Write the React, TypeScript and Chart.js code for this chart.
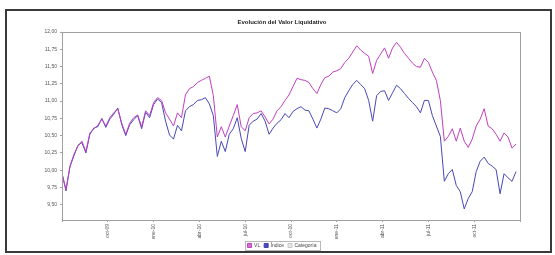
import { useEffect, useRef } from 'react';
import { Chart, registerables } from 'chart.js';

Chart.register(...registerables);

const chartTitle = 'Evolución del Valor Liquidativo';
const seriesNames = ['VL', 'Índice', 'Categoría'];
const xTickLabels = ['', 'oct-09', 'ene-10', 'abr-10', 'jul-10', 'oct-10', 'ene-11', 'abr-11', 'jul-11', 'oct-11', ''];
const yTickValues = [9.5, 9.75, 10.0, 10.25, 10.5, 10.75, 11.0, 11.25, 11.5, 11.75, 12.0];

const fundValues = [
  9.95, 9.72, 10.06, 10.23, 10.35, 10.42, 10.27, 10.54, 10.6, 10.65, 10.74, 10.64, 10.76, 10.83, 10.89, 10.68,
  10.52, 10.68, 10.76, 10.8, 10.63, 10.86, 10.79, 10.98, 11.05, 11.01,
  10.83, 10.74, 10.64, 10.83, 10.76, 11.09, 11.18, 11.21, 11.27, 11.3, 11.33, 11.36, 11.08, 10.48, 10.63, 10.48,
  10.64, 10.79, 10.95, 10.63, 10.57, 10.76, 10.82, 10.83, 10.86, 10.77, 10.67, 10.74, 10.86, 10.92, 11.01, 11.09,
  11.21, 11.33, 11.31, 11.3, 11.27, 11.18, 11.11, 11.24, 11.34, 11.36, 11.42, 11.44, 11.47, 11.56, 11.62, 11.71,
  11.8, 11.74, 11.69, 11.65, 11.4, 11.59, 11.68, 11.77, 11.62, 11.77, 11.85, 11.78, 11.69, 11.62, 11.55, 11.5,
  11.49, 11.62, 11.56, 11.42, 11.3, 11.01, 10.42, 10.49, 10.6, 10.42, 10.61, 10.42, 10.33, 10.45, 10.64, 10.74,
  10.89, 10.64, 10.6, 10.52, 10.42, 10.54, 10.48, 10.32, 10.38,
];

const indexValues = [
  9.96, 9.7, 10.05, 10.21, 10.36, 10.4, 10.25, 10.52, 10.61, 10.63, 10.75, 10.62, 10.74, 10.81, 10.9, 10.66,
  10.5, 10.66, 10.73, 10.79, 10.6, 10.84, 10.76, 10.95, 11.03, 10.98,
  10.71, 10.51, 10.45, 10.65, 10.57, 10.86, 10.92, 10.95, 11.01, 11.02, 11.05, 10.96, 10.79, 10.2, 10.42, 10.27,
  10.52, 10.6, 10.76, 10.46, 10.27, 10.65, 10.71, 10.74, 10.82, 10.71, 10.52, 10.61, 10.68, 10.73, 10.82, 10.76,
  10.85, 10.89, 10.92, 10.87, 10.86, 10.74, 10.61, 10.74, 10.9, 10.89, 10.86, 10.83, 10.89, 11.05, 11.15, 11.24,
  11.3, 11.24, 11.18, 11.01, 10.71, 11.08, 11.14, 11.15, 11.01, 11.12, 11.23, 11.18, 11.11, 11.04, 10.98, 10.92,
  10.83, 11.01, 11.01, 10.79, 10.64, 10.49, 9.84, 9.95, 10.01, 9.78, 9.69, 9.44, 9.59, 9.69, 9.98, 10.13,
  10.19, 10.1, 10.06, 10.01, 9.66, 9.95, 9.89, 9.84, 9.98,
];

const categoryValues: number[] = [];

const fmt = (v: number) => v.toFixed(2).replace('.', ',');

const framePlugin = {
  id: 'framePlugin',
  beforeDraw(chart: any) {
    const { ctx, width, height } = chart;
    ctx.save();
    ctx.fillStyle = '#ffffff';
    ctx.fillRect(0, 0, width, height);
    ctx.restore();
  },
  afterDraw(chart: any) {
    const { ctx, chartArea } = chart;
    ctx.save();
    ctx.strokeStyle = '#a0a0a0';
    ctx.lineWidth = 1;
    ctx.strokeRect(
      Math.round(chartArea.left) + 0.5,
      Math.round(chartArea.top) + 0.5,
      Math.round(chartArea.right - chartArea.left),
      Math.round(chartArea.bottom - chartArea.top)
    );
    const boxes = chart.legend?.legendHitBoxes || [];
    if (boxes.length) {
      let l = Infinity, t = Infinity, r = -Infinity, b = -Infinity;
      boxes.forEach((h: any) => {
        l = Math.min(l, h.left);
        t = Math.min(t, h.top);
        r = Math.max(r, h.left + h.width);
        b = Math.max(b, h.top + h.height);
      });
      ctx.strokeStyle = '#b8b8b8';
      ctx.strokeRect(Math.round(l - 3) + 0.5, Math.round(t - 2) + 0.5, Math.round(r - l + 6), Math.round(b - t + 4));
    }
    ctx.strokeStyle = '#3a3a3a';
    ctx.lineWidth = 2;
    ctx.strokeRect(6, 10, 545, 242);
    ctx.restore();
  },
};

export default function App() {
  const ref = useRef<HTMLCanvasElement | null>(null);

  useEffect(() => {
    if (!ref.current) return;
    const n = fundValues.length;
    const xMax = n;
    const step = xMax / 10;
    const chart = new Chart(ref.current, {
      type: 'line',
      data: {
        datasets: [
          {
            label: seriesNames[0],
            data: fundValues.map((v, i) => ({ x: i, y: v })),
            borderColor: '#c040c0',
            backgroundColor: '#d070d0',
            borderWidth: 1,
            pointRadius: 0,
            tension: 0,
          },
          {
            label: seriesNames[1],
            data: indexValues.map((v, i) => ({ x: i, y: v })),
            borderColor: '#4848b8',
            backgroundColor: '#4848b8',
            borderWidth: 1,
            pointRadius: 0,
            tension: 0,
          },
          {
            label: seriesNames[2],
            data: categoryValues.map((v, i) => ({ x: i, y: v })),
            borderColor: '#c8c8c8',
            backgroundColor: '#e8e8e8',
            borderWidth: 1,
            pointRadius: 0,
          },
        ],
      },
      options: {
        responsive: false,
        animation: false,
        devicePixelRatio: 1,
        layout: { padding: { left: 44, right: 35, top: 0, bottom: -3 } },
        plugins: {
          title: {
            display: true,
            text: chartTitle,
            color: '#222222',
            font: { family: 'Liberation Sans, Arial, sans-serif', size: 6, weight: 'bold', lineHeight: 1 },
            padding: { top: 19, bottom: 7 },
          },
          legend: {
            position: 'bottom',
            labels: {
              boxWidth: 4,
              boxHeight: 4,
              padding: 4,
              color: '#444444',
              font: { family: 'Liberation Sans, Arial, sans-serif', size: 5 },
            },
          },
          tooltip: { enabled: false },
        },
        scales: {
          x: {
            type: 'linear',
            min: 0,
            max: xMax,
            afterBuildTicks: (scale: any) => {
              scale.ticks = xTickLabels.map((_, k) => ({ value: k * step }));
            },
            afterFit: (scale: any) => {
              scale.height = 19;
            },
            ticks: {
              minRotation: 90,
              maxRotation: 90,
              autoSkip: false,
              padding: 2,
              color: '#555555',
              font: { family: 'Liberation Sans, Arial, sans-serif', size: 5 },
              callback: (_v: any, idx: number) => xTickLabels[idx],
            },
            grid: { display: true, drawOnChartArea: false, tickLength: 2, color: '#a0a0a0' },
            border: { display: false },
          },
          y: {
            type: 'linear',
            min: 9.28,
            max: 12.0,
            afterBuildTicks: (scale: any) => {
              scale.ticks = yTickValues.map((v) => ({ value: v }));
            },
            afterFit: (scale: any) => {
              scale.width = 18;
            },
            ticks: {
              padding: 3,
              color: '#555555',
              font: { family: 'Liberation Sans, Arial, sans-serif', size: 5 },
              callback: (v: any) => fmt(Number(v)),
            },
            grid: { display: true, drawOnChartArea: false, tickLength: 2, color: '#a0a0a0' },
            border: { display: false },
          },
        },
      },
      plugins: [framePlugin],
    });
    return () => chart.destroy();
  }, []);

  return (
    <canvas
      ref={ref}
      width={555}
      height={255}
      style={{ position: 'absolute', left: 0, top: 0, width: 555, height: 255 }}
    />
  );
}
